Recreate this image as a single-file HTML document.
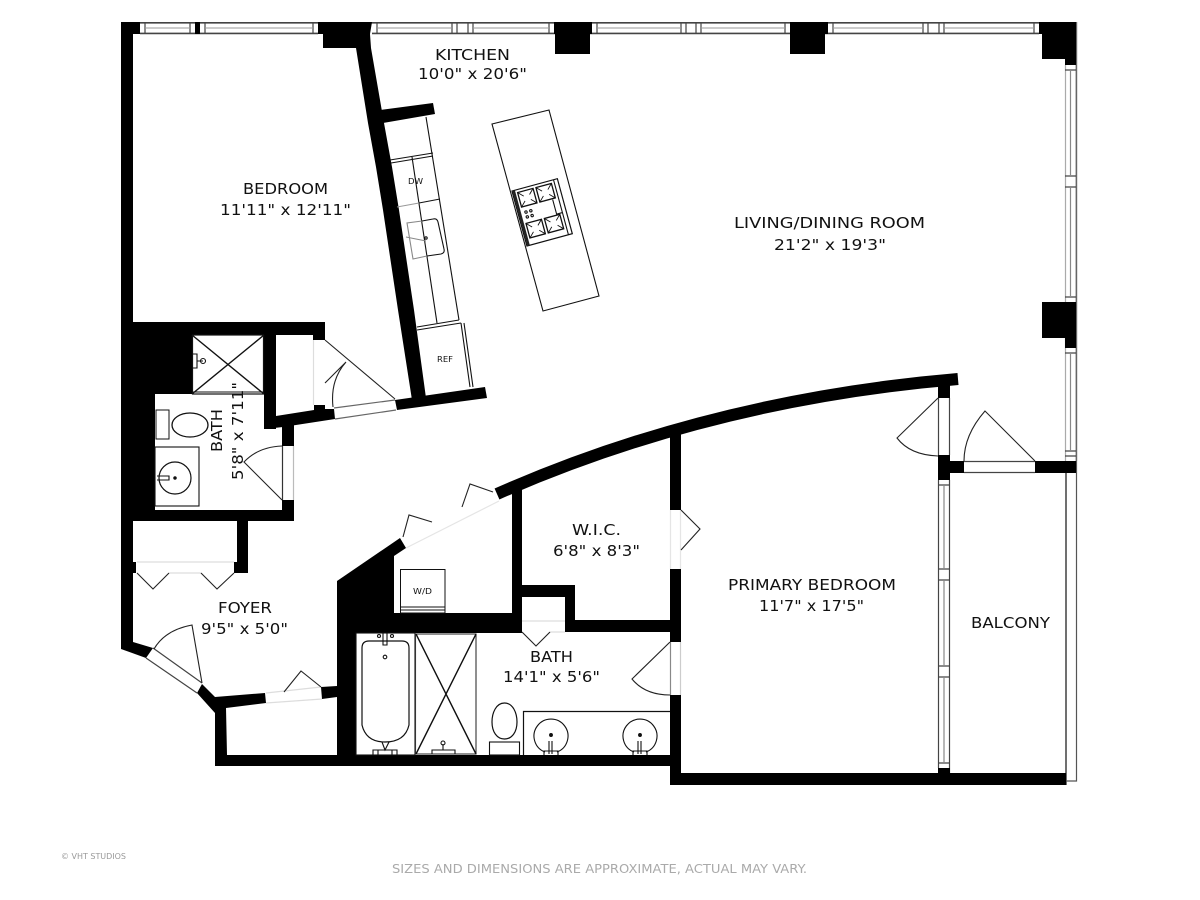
<!DOCTYPE html>
<html><head><meta charset="utf-8"><title>Floor plan</title>
<style>html,body{margin:0;padding:0;background:#fff}svg{display:block}text{font-family:"DejaVu Sans","Liberation Sans",sans-serif;fill:#111}</style>
</head><body>
<svg width="1200" height="900" viewBox="0 0 1200 900" xmlns="http://www.w3.org/2000/svg">
<rect width="1200" height="900" fill="#fff"/>
<!-- horizontal windows -->
<g fill="none" stroke="#444" stroke-width="1.2">
<path stroke-width="1.6" d="M140 22.8H1039M140 33.4H318M372 33.4H1039"/>
<path d="M145 22V34M190 22V34M205 22V34M313 22V34M377 22V34M452 22V34M457 22V34M468 22V34M473 22V34M549 22V34M597 22V34M681 22V34M686 22V34M696 22V34M701 22V34M785 22V34M833 22V34M923 22V34M928 22V34M939 22V34M944 22V34M1034 22V34"/>
<path stroke="#999" stroke-width="1" d="M145 28H190M205 28H313M377 28H452M473 28H549M597 28H681M701 28H785M833 28H923M944 28H1034"/>
<!-- right windows -->
<path stroke="#666" stroke-width="1.6" d="M1076.4 22V461"/>
<path stroke="#aaa" d="M1065.5 65V461"/>
<path d="M1065 70H1076M1065 176H1076M1065 187H1076M1065 297H1076M1065 353H1076M1065 451H1076M1065 456H1076"/>
<path stroke="#888" d="M1070.5 70V176M1070.5 187V297M1070.5 353V451"/>
<!-- balcony windows -->
<path d="M938.5 480V768M949.5 480V773M938 485H950M938 569H950M938 580H950M938 666H950M938 677H950M938 763H950"/>
<path stroke="#888" d="M944 485V569M944 580V666M944 677V763"/>
<!-- balcony rail -->
<path stroke="#333" stroke-width="1.4" d="M1066 473V785"/>
<path stroke="#555" d="M1076.5 461V781H1066"/>
<!-- door frames -->
<path d="M964 461.5H1035M964 472.5H1035"/>
<path d="M938.5 398V455M949.5 398V455"/>
<path stroke="#333" d="M282.5 446V500"/><path stroke="#bbb" d="M293.5 446V500"/>
<path stroke="#888" d="M670.5 642V695"/><path stroke="#ccc" d="M680.5 642V695"/>
<path stroke="#e5e5e5" d="M670.5 510V569M680.5 510V569"/>
<path d="M334 408L395 400M335 419L396 410" stroke="#666"/>
<path d="M153 648L202 683M146 658L197 693"/>
<path stroke="#ddd" d="M266 693L321 687M266 703L322 699"/>
<path stroke="#ddd" d="M137 562H234M169 573H201"/>
<path stroke="#e5e5e5" d="M406 548L499 501"/>
<path stroke="#ddd" d="M522 621H565M550 632H565"/>
<path stroke="#ddd" d="M313.5 340V405"/>
</g>
<!-- walls -->
<g fill="#000">
<rect x="121" y="22" width="19" height="12"/>
<rect x="121" y="22" width="12" height="627"/>
<polygon points="121,649 133,642 153,648 146,658"/>
<rect x="195" y="22" width="5" height="12"/>
<polygon points="318,22 372,22 370,34 371,48 384,123 392,167 399,210 414,310 426,398 412,400 398,310 383,210 376,167 368,123 356,48 323,48 323,34 318,34"/>
<polygon points="380,110 433,103 435,114 383,123"/>
<polygon points="395,400 485,387 487,398 397,410"/>
<rect x="133" y="322" width="192" height="13"/>
<rect x="313" y="335" width="12" height="5"/>
<rect x="133" y="335" width="59" height="59"/>
<rect x="133" y="394" width="22" height="116"/>
<rect x="121" y="510" width="173" height="11"/>
<rect x="264" y="335" width="12" height="94"/>
<polygon points="265,429 276,416 314,410 314,405 325,405 325,409 334,409 335,419 283,427"/>
<rect x="282" y="424" width="12" height="22"/>
<rect x="282" y="500" width="12" height="21"/>
<rect x="237" y="521" width="11" height="52"/>
<rect x="234" y="562" width="14" height="11"/>
<rect x="121" y="562" width="15" height="11"/>
<polygon points="197,693 202,684 215,697 265,693 266,703 226,708 227,755 215,755 215,713"/>
<polygon points="321,687 337,686 337,697 322,699"/>
<rect x="215" y="755" width="455" height="11"/>
<polygon points="337,581 400,538 406,548 394,556 394,613 512,613 512,490 522,486 522,585 575,585 575,620 670,620 670,632 565,632 565,597 522,597 522,633 356,633 356,766 337,766"/>
<rect x="670" y="428" width="11" height="82"/>
<rect x="670" y="569" width="11" height="73"/>
<rect x="670" y="695" width="11" height="90"/>
<rect x="670" y="773" width="396" height="12"/>
<rect x="938" y="385" width="12" height="13"/>
<rect x="938" y="455" width="12" height="25"/>
<rect x="950" y="461" width="14" height="12"/>
<rect x="1035" y="461" width="41" height="12"/>
<rect x="938" y="768" width="12" height="5"/>
<rect x="554" y="22" width="38" height="12"/>
<rect x="555" y="22" width="35" height="32"/>
<rect x="790" y="22" width="38" height="12"/>
<rect x="790" y="22" width="35" height="32"/>
<polygon points="1039,22 1076,22 1076,65 1065,65 1065,59 1042,59 1042,34 1039,34"/>
<rect x="1042" y="302" width="23" height="36"/>
<rect x="1065" y="302" width="11" height="46"/>
</g>
<path d="M497 494Q710 400 958 379" fill="none" stroke="#000" stroke-width="12"/>
<!-- door leaves & arcs -->
<g fill="none" stroke="#222" stroke-width="1.1">
<path d="M325 340L395 399M333 407Q330 380 346 362L325 383"/>
<path d="M282 500L244 462Q258 447 282 446"/>
<path d="M202 683L192 625Q165 630 154 649"/>
<path d="M137 573L153 589L169 573M201 573L217 589L234 573"/>
<path d="M284 692L301 671L321 687"/>
<path d="M403 537L409 515L432 522M462 507L470 484L493 492"/>
<path d="M681 510L700 529L681 550"/>
<path d="M522 632L536 646L550 632"/>
<path d="M670 642L632 679Q645 695 670 695"/>
<path d="M938 398L897 438Q910 455 938 456"/>
<path d="M1035 461L985 411Q964 435 964 461"/>
</g>
<!-- kitchen -->
<g fill="none" stroke="#111" stroke-width="1.1">
<path d="M426 117L459 320"/>
<path d="M412 157L437 323"/>
<path d="M390 160L433 153M391 163L433 156"/>
<path d="M417 327L459 320M417 330L461 323"/>
<path d="M419 203L440 199"/>
<path stroke="#999" d="M397 207L419 203"/>
<path stroke="#888" d="M422 221L407 223L413 259L427 256"/>
<path stroke="#888" d="M406 237L426 241"/>
<path d="M422 221L433 219Q437 218 438 222L444 249Q445 253 441 254L427 256"/>
<circle cx="426" cy="238" r="1.2"/>
<path d="M461 323L470 387M464 323L473 387"/>
<polygon points="492,124 549,110 599,296 543,311"/>
<g transform="translate(512 191) rotate(-15.2)">
<rect x="0" y="0" width="47" height="57" stroke-width="1.2"/>
<rect x="0.5" y="0" width="2.5" height="57" fill="#222" stroke="none"/>
<path d="M43 0V57M37 19V34H43"/>
<g stroke-width="1.3">
<rect x="5" y="3" width="16" height="15"/><rect x="24" y="3" width="16" height="15"/>
<rect x="5" y="35" width="16" height="15"/><rect x="24" y="35" width="16" height="15"/>
</g>
<path stroke-width=".9" d="M5 3L10 8M21 3L16 8M5 18L10 13M21 18L16 13M24 3L29 8M40 3L35 8M24 18L29 13M40 18L35 13M5 35L10 40M21 35L16 40M5 50L10 45M21 50L16 45M24 35L29 40M40 35L35 40M24 50L29 45M40 50L35 45"/>
<circle cx="8" cy="24" r="1.2"/><circle cx="13" cy="24" r="1.2"/><circle cx="8" cy="29" r="1.2"/><circle cx="13" cy="29" r="1.2"/>
</g>
<!-- small bath -->
<rect x="192.5" y="335" width="71" height="59" stroke-width="1.2"/>
<path stroke-width="1.4" d="M192 335L264 394M264 335L192 394"/>
<path d="M192 392H264"/>
<path d="M193 354H197V368H193M197 361H203"/><circle cx="203" cy="361" r="2.5"/>
<rect x="156" y="410" width="13" height="29" stroke-width="1"/>
<ellipse cx="190" cy="425" rx="18" ry="12" stroke-width="1.3"/>
<rect x="155" y="447" width="44" height="59"/>
<circle cx="175" cy="478" r="16" stroke-width="1.2"/>
<circle cx="175" cy="478" r="1.2" fill="#111"/>
<path d="M157 476H169V480H157"/>
<!-- large bath -->
<rect x="356" y="633" width="59" height="122"/>
<path stroke-width="1.2" d="M362 648Q362 641 369 641H402Q409 641 409 648V725Q405 742 385 742Q366 742 362 725Z"/>
<path d="M383 633V645H387V633"/>
<circle cx="385" cy="657" r="1.8"/><circle cx="379" cy="636" r="1.5"/><circle cx="392" cy="636" r="1.5"/>
<path d="M382 742H389L385 750ZM373 755V750H397V755M378 750V755M392 750V755"/>
<rect x="415.5" y="634" width="60.5" height="120" stroke="#333"/>
<path stroke-width="1.4" d="M416 634L476 754M476 634L416 754"/>
<path d="M432 754V750H455V754M443 750V744"/><circle cx="443" cy="743" r="2"/>
<rect x="489.5" y="742" width="30" height="13"/>
<path stroke-width="1.2" d="M504.5 703C496 703 492 713 492 722C492 732 497 739 504.5 739C512 739 517 732 517 722C517 713 513 703 504.5 703Z"/>
<path stroke-width="1.2" d="M523.5 755V711.5H670"/>
<path d="M545 752A17 17 0 1 1 557 752"/><path d="M634 752A17 17 0 1 1 646 752"/>
<circle cx="551" cy="735" r="1.4" fill="#111"/><circle cx="640" cy="735" r="1.4" fill="#111"/>
<path d="M549 741V754M552 741V754M638 741V754M641 741V754"/>
<path d="M544 755V751H558V755M633 755V751H647V755"/>
<rect x="400.5" y="569.5" width="44.5" height="43.5" stroke-width="1"/>
<path d="M400 607H445M400 610H445"/>
</g>
<!-- labels -->
<g font-size="15">
<text x="435" y="60" textLength="75" lengthAdjust="spacingAndGlyphs">KITCHEN</text>
<text x="418" y="79" textLength="109" lengthAdjust="spacingAndGlyphs">10'0" x 20'6"</text>
<text x="243" y="194" textLength="85" lengthAdjust="spacingAndGlyphs">BEDROOM</text>
<text x="220" y="215" textLength="131" lengthAdjust="spacingAndGlyphs">11'11" x 12'11"</text>
<text x="734" y="228" textLength="191" lengthAdjust="spacingAndGlyphs">LIVING/DINING ROOM</text>
<text x="774" y="250" textLength="112" lengthAdjust="spacingAndGlyphs">21'2" x 19'3"</text>
<text x="572" y="535" textLength="49" lengthAdjust="spacingAndGlyphs">W.I.C.</text>
<text x="553" y="556" textLength="87" lengthAdjust="spacingAndGlyphs">6'8" x 8'3"</text>
<text x="728" y="590" textLength="168" lengthAdjust="spacingAndGlyphs">PRIMARY BEDROOM</text>
<text x="759" y="611" textLength="105" lengthAdjust="spacingAndGlyphs">11'7" x 17'5"</text>
<text x="971" y="628" textLength="79" lengthAdjust="spacingAndGlyphs">BALCONY</text>
<text x="530" y="662" textLength="43" lengthAdjust="spacingAndGlyphs">BATH</text>
<text x="503" y="682" textLength="97" lengthAdjust="spacingAndGlyphs">14'1" x 5'6"</text>
<text x="218" y="613" textLength="54" lengthAdjust="spacingAndGlyphs">FOYER</text>
<text x="201" y="634" textLength="87" lengthAdjust="spacingAndGlyphs">9'5" x 5'0"</text>
<text transform="translate(222 452) rotate(-90)" textLength="43" lengthAdjust="spacingAndGlyphs">BATH</text>
<text transform="translate(243 480) rotate(-90)" textLength="98" lengthAdjust="spacingAndGlyphs">5'8" x 7'11"</text>
</g>
<g font-size="8">
<text x="413" y="594" textLength="19" lengthAdjust="spacingAndGlyphs">W/D</text>
<text x="437" y="362" textLength="16" lengthAdjust="spacingAndGlyphs">REF</text>
<text x="408" y="184" textLength="15" lengthAdjust="spacingAndGlyphs">DW</text>
</g>
<text x="61" y="859" font-size="8" style="fill:#999" textLength="65" lengthAdjust="spacingAndGlyphs">© VHT STUDIOS</text>
<text x="392" y="873" font-size="12" style="fill:#aaa" textLength="415" lengthAdjust="spacingAndGlyphs">SIZES AND DIMENSIONS ARE APPROXIMATE, ACTUAL MAY VARY.</text>
</svg>
</body></html>
